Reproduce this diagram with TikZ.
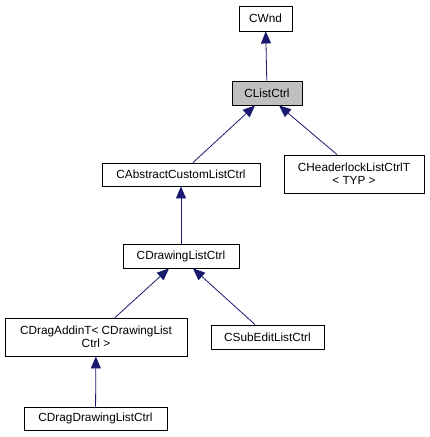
\documentclass[tikz,border=0pt]{standalone}
\usepackage{fontspec}
\setmainfont{Liberation Sans}
\usepackage{tikz}
\usetikzlibrary{arrows.meta,calc}
\definecolor{edge}{RGB}{25,25,112}
\definecolor{current}{RGB}{191,191,191}

\begin{document}
\begin{tikzpicture}[
  x=1pt,y=-1pt,
  font=\fontsize{11.8}{13}\selectfont,
  cls/.style={draw,line width=0.9pt,inner sep=0pt,align=center,fill=white},
  here/.style={cls,fill=current},
  arr/.style={-{Triangle[length=12pt,width=10pt]},color=edge,line width=0.8pt},
]
\useasboundingbox (0,0) rectangle (429,437);

\node[cls,minimum width=53,minimum height=25] (wnd) at (265.5,18.5) {CWnd};
\node[here,minimum width=70,minimum height=24] (lc) at (267,93) {CListCtrl};
\node[cls,minimum width=158,minimum height=23] (abs) at (181,174.5) {CAbstractCustomListCtrl};
\node[cls,minimum width=140,minimum height=38] (hdr) at (354,174) {CHeaderlockListCtrlT\\{<} TYP {>}};
\node[cls,minimum width=116,minimum height=24] (drw) at (181,256) {CDrawingListCtrl};
\node[cls,minimum width=182,minimum height=38] (dai) at (96,337) {CDragAddinT{<} CDrawingList\\Ctrl {>}};
\node[cls,minimum width=113,minimum height=24] (sub) at (267.5,337) {CSubEditListCtrl};
\node[cls,minimum width=143,minimum height=23] (ddl) at (95.5,418.5) {CDragDrawingListCtrl};

\draw[arr] (lc) -- (wnd);
\draw[arr] ($(abs.north)+(12,0)$) -- ($(lc.south)+(-12,0)$);
\draw[arr] ($(hdr.north)+(-17,0)$) -- ($(lc.south)+(12,0)$);
\draw[arr] (drw) -- (abs);
\draw[arr] ($(dai.north)+(19,0)$) -- ($(drw.south)+(-12,0)$);
\draw[arr] ($(sub.north)+(-12.5,0)$) -- ($(drw.south)+(12,0)$);
\draw[arr] (ddl) -- (dai);

\end{tikzpicture}
\end{document}
